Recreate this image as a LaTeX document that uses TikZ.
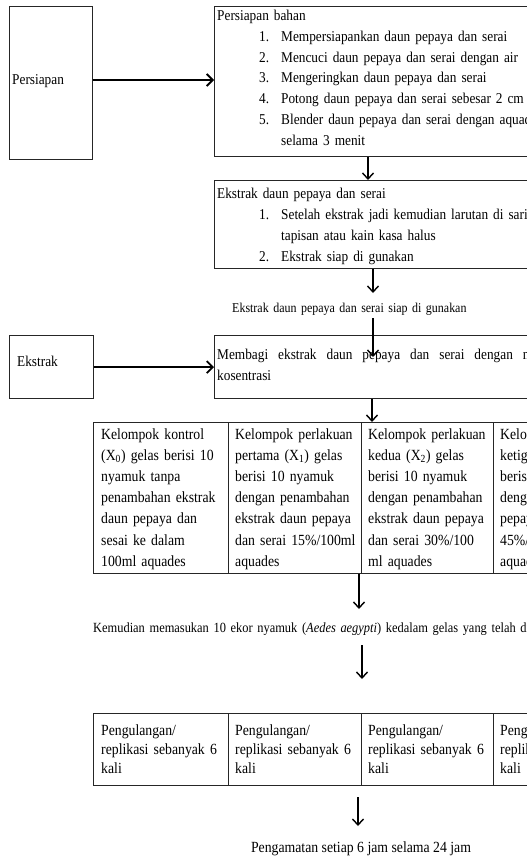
\documentclass[tikz,border=0pt]{standalone}
\usepackage{fontspec}
\setmainfont{Liberation Serif}[FakeStretch=0.887]
\usetikzlibrary{arrows.meta}
\newcommand{\fontlist}{\fontsize{15bp}{20.8bp}\selectfont\spaceskip=0.4em plus 0.1em\relax}
\newcommand{\fontbox}{\fontsize{15bp}{21bp}\selectfont\spaceskip=0.4em plus 0.1em\relax}
\newcommand{\fonttabA}{\fontsize{15.5bp}{21.2bp}\selectfont\spaceskip=0.4em plus 0.1em\relax}
\newcommand{\fonttabB}{\fontsize{15.5bp}{19bp}\selectfont\spaceskip=0.4em plus 0.1em\relax}
\newcommand{\fontfreeA}{\fontsize{13.5bp}{20bp}\selectfont}
\newcommand{\fontfreeB}{\fontsize{14bp}{20bp}\selectfont}
\newcommand{\fontfreeC}{\fontsize{15.5bp}{20bp}\selectfont}
\newcommand{\numitem}[1]{\hspace*{42bp}\makebox[22bp][l]{#1}}
\newcommand{\contitem}{\hspace*{64bp}}
\begin{document}
\begin{tikzpicture}[x=1bp,y=-1bp,
  box/.style={draw=black!85, line width=1.1bp, inner sep=0pt, anchor=north west},
  txt/.style={inner sep=0pt, anchor=base west, text width=#1, align=left},
  txt/.default=420bp,
  arrH/.style={line width=1.8bp, -{Straight Barb[length=6bp,width=12bp,line width=1.8bp]}},
  arrV/.style={line width=1.4bp, -{Straight Barb[length=6bp,width=11bp,line width=1.4bp]}}]
\useasboundingbox (0,0) rectangle (527,858);
\clip (0,0) rectangle (527,858);
\fill[white] (0,0) rectangle (527,858);

% ---- boxes ----
\node[box, minimum width=83bp, minimum height=153bp] (persiapan) at (9,6) {};
\node[box, minimum width=420bp, minimum height=150bp] (bahan) at (214,6) {};
\node[box, minimum width=420bp, minimum height=88bp] (ekstrakdaun) at (214,180) {};
\node[box, minimum width=84bp, minimum height=63bp] (ekstrak) at (9,335) {};
\node[box, minimum width=420bp, minimum height=63bp] (membagi) at (214,335) {};

% table 1
\node[box, minimum width=135bp, minimum height=151bp] (ta) at (93,422) {};
\node[box, minimum width=133bp, minimum height=151bp] (tb) at (228,422) {};
\node[box, minimum width=132bp, minimum height=151bp] (tc) at (361,422) {};
\node[box, minimum width=140bp, minimum height=151bp] (td) at (493,422) {};
% table 2
\node[box, minimum width=135bp, minimum height=72bp] (ra) at (93,713) {};
\node[box, minimum width=133bp, minimum height=72bp] (rb) at (228,713) {};
\node[box, minimum width=132bp, minimum height=72bp] (rc) at (361,713) {};
\node[box, minimum width=140bp, minimum height=72bp] (rd) at (493,713) {};

% ---- texts ----
\node[txt=80bp, font=\fontbox] (persiapanT) at (12,84) {Persiapan};
\node[txt=80bp, font=\fontbox] (ekstrakT) at (17,366) {Ekstrak};

\node[txt, font=\fontlist] (bahanT) at (217,20.5) {Persiapan bahan\\
\numitem{1.}Mempersiapankan daun pepaya dan serai\\
\numitem{2.}Mencuci daun pepaya dan serai dengan air\\
\numitem{3.}Mengeringkan daun pepaya dan serai\\
\numitem{4.}Potong daun pepaya dan serai sebesar 2 cm\\
\numitem{5.}Blender daun pepaya dan serai dengan aquades\\
\contitem selama 3 menit};

\node[txt, font=\fontbox] (ekstrakdaunT) at (217,198) {Ekstrak daun pepaya dan serai\\
\numitem{1.}Setelah ekstrak jadi kemudian larutan di saring\\
\contitem tapisan atau kain kasa halus\\
\numitem{2.}Ekstrak siap di gunakan};

\node[txt, font=\fontfreeA] (siapT) at (232,312) {Ekstrak daun pepaya dan serai siap di gunakan};

\node[txt, font=\fontbox] (membagiT) at (217,359) {{\spaceskip=10bp\relax Membagi ekstrak daun pepaya dan serai dengan masing-masing}\\kosentrasi};

\node[txt=200bp, font=\fonttabA] (taT) at (101,439) {Kelompok kontrol\\(X\textsubscript{0}) gelas berisi 10\\nyamuk tanpa\\penambahan ekstrak\\daun pepaya dan\\sesai ke dalam\\100ml aquades};
\node[txt=200bp, font=\fonttabA] (tbT) at (235,439) {Kelompok perlakuan\\pertama (X\textsubscript{1}) gelas\\berisi 10 nyamuk\\dengan penambahan\\ekstrak daun pepaya\\dan serai 15\%/100ml\\aquades};
\node[txt=200bp, font=\fonttabA] (tcT) at (368,439) {Kelompok perlakuan\\kedua (X\textsubscript{2}) gelas\\berisi 10 nyamuk\\dengan penambahan\\ekstrak daun pepaya\\dan serai 30\%/100\\ml aquades};
\node[txt=260bp, font=\fonttabA] (tdT) at (500,439) {Kelompok perlakuan\\ketiga (X\textsubscript{3}) gelas\\berisi 10 nyamuk\\dengan penambahan ekstrak daun\\pepaya dan serai\\45\%/100ml\\aquades};

\node[txt=600bp, font=\fontfreeB] (kemudianT) at (93,632) {Kemudian memasukan 10 ekor nyamuk (\textit{Aedes aegypti}) kedalam gelas yang telah di berikan ekstrak};

\node[txt=200bp, font=\fonttabB] (raT) at (101,735.5) {Pengulangan/\\replikasi sebanyak 6\\kali};
\node[txt=200bp, font=\fonttabB] (rbT) at (235,735.5) {Pengulangan/\\replikasi sebanyak 6\\kali};
\node[txt=200bp, font=\fonttabB] (rcT) at (368,735.5) {Pengulangan/\\replikasi sebanyak 6\\kali};
\node[txt=200bp, font=\fonttabB] (rdT) at (500,735.5) {Pengulangan/\\replikasi sebanyak 6\\kali};

\node[inner sep=0pt, anchor=base, font=\fontfreeC] (pengamatanT) at (361,852) {Pengamatan setiap 6 jam selama 24 jam};

% ---- connector end points ----
\coordinate (xA) at (368,0);
\coordinate (xB) at (373,0);
\coordinate (xC) at (372,0);
\coordinate (sB) at (373,293);
\coordinate (tB) at (373,318);
\coordinate (eB) at (373,357);
\coordinate (t1) at (359,609);
\coordinate (s2) at (362,645);
\coordinate (t2) at (362,679);
\coordinate (s3) at (358,797);
\coordinate (t3) at (358,826);

% ---- connectors ----
\draw[arrH] (persiapan.east |- 0,80) -- (bahan.west |- 0,80);
\draw[arrH] (ekstrak.east) -- (membagi.west |- ekstrak.east);
\draw[arrV] (bahan.south -| xA) -- (ekstrakdaun.north -| xA);
\draw[arrV] (ekstrakdaun.south -| xB) -- (sB);
\draw[arrV] (tB) -- (eB);
\draw[arrV] (membagi.south -| xC) -- (ta.north -| xC);
\draw[arrV] (ta.south -| t1) -- (t1);
\draw[arrV] (s2) -- (t2);
\draw[arrV] (s3) -- (t3);
\end{tikzpicture}
\end{document}
